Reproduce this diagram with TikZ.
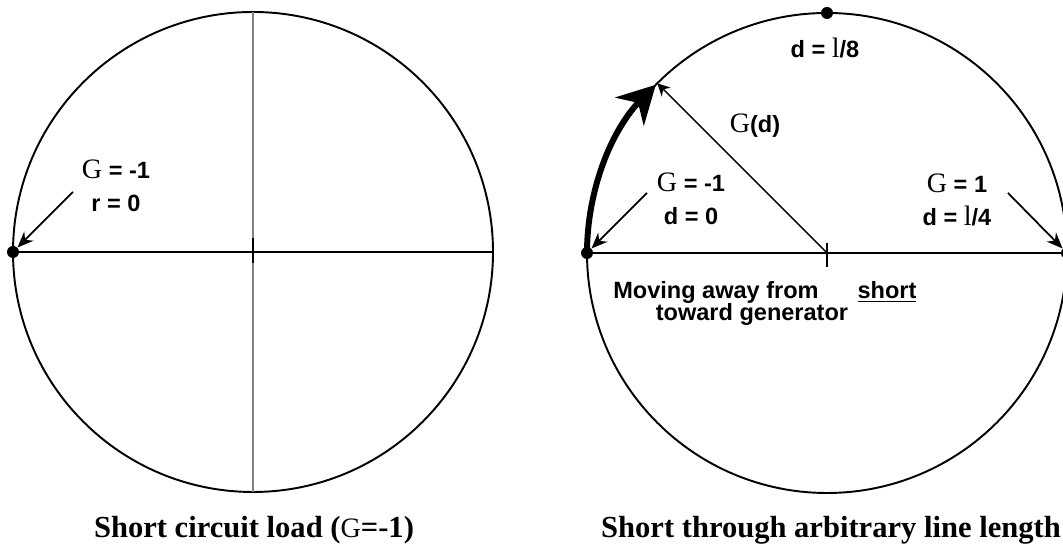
\documentclass[tikz,border=0pt]{standalone}
\usepackage{fontspec}
\setmainfont{Liberation Serif}
\setsansfont{Liberation Sans}
\usetikzlibrary{arrows.meta, positioning, calc}

\newcommand{\Gam}{{\rmfamily\mdseries\fontsize{16}{18}\selectfont G}}
\newcommand{\lam}{{\rmfamily\mdseries\fontsize{16}{18}\selectfont l}}

\begin{document}
\begin{tikzpicture}[x=0.02cm, y=0.02cm, >=Stealth,
    lbl/.style={font=\sffamily\bfseries\fontsize{13.4}{18.5}\selectfont, align=center, inner sep=0pt},
    captxt/.style={font=\rmfamily\bfseries\fontsize{17.4}{20}\selectfont, anchor=base, inner sep=0pt},
    dot/.style={circle, fill, inner sep=0pt, minimum size=0.24cm},
    rim/.style={line width=1.1pt},
    ptr/.style={-{Stealth[length=0.32cm, width=0.26cm]}, line width=1pt}]
  \useasboundingbox (0,0) rectangle (1063,546);

  % short circuit load
  \coordinate (lc) at (253,294);
  \draw[rim] (lc) circle[radius=240];
  \draw[gray, line width=1.1pt] (253,54) -- (253,534);
  \draw[rim] (13,294) -- (493,294);
  \draw[line width=1.3pt] (253,283) -- (253,308);
  \node[dot] (lshort) at (13,294) {};
  \node[lbl] (llab) at (116,360) {\Gam{} = -1\\r = 0};
  \coordinate (lptr) at (73,354);
  \draw[ptr] (lptr) -- (lshort);
  \node[captxt] (lcap) at (254,8) {Short circuit load (\Gam{}=-1)};

  % short through a line of length d
  \coordinate (rc) at (827,293);
  \draw[rim] (rc) circle[radius=240];
  \draw[rim] (587,293) -- (1067,293);
  \draw[line width=1.3pt] (827,279) -- (827,303);
  \node[dot] (rshort) at (587,293) {};
  \node[dot] (eighth) at (827,533) {};
  \node[dot] (quarter) at (1067,293) {};
  \coordinate (gtip) at ($(rc)+(135:240)$);

  % path travelled toward the generator
  \draw[line width=3.4pt, -{Stealth[length=0.75cm, width=0.8cm]}]
    (rshort.center) arc[start angle=180, end angle=135.5, radius=240];
  \draw[line width=0.8pt, -{Stealth[length=0.25cm, width=0.25cm]}] (rc) -- (gtip);
  \node[lbl] (gd) at (755,420) {\Gam(d)};

  \node[lbl] (rlab) at (691,347) {\Gam{} = -1\\d = 0};
  \coordinate (rptr) at (647,353);
  \draw[ptr] (rptr) -- (rshort);

  \node[lbl] (qlab) at (957,346) {\Gam{} = 1\\d = \lam/4};
  \coordinate (qptr) at (1008,353);
  \draw[ptr] (qptr) -- (quarter);

  \node[lbl] (elab) at (825,498) {d = \lam/8};

  \node[lbl] (mv1) at (716,254) {Moving away from};
  \node[lbl] (mv2) at (752,232) {toward generator};
  \node[lbl] (shrt) at (887,254) {\underline{short}};

  \node[captxt] (rcap) at (831,8) {Short through arbitrary line length};
\end{tikzpicture}
\end{document}
